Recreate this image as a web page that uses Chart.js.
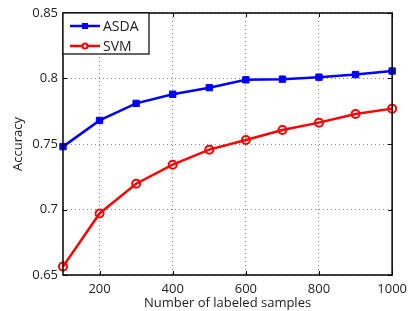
<!DOCTYPE html>
<html>
<head>
<meta charset="utf-8">
<script src="https://cdn.jsdelivr.net/npm/chart.js@4"></script>
<style>
  html, body { margin: 0; padding: 0; background: #fff; }
  #wrap { width: 413px; height: 311px; }
</style>
</head>
<body>
<div id="wrap"><canvas id="myChart" width="413" height="311"></canvas></div>
<script>
// data
const samples = [100, 200, 300, 400, 500, 600, 700, 800, 900, 1000];
const asda = [0.748, 0.768, 0.781, 0.788, 0.793, 0.799, 0.7995, 0.801, 0.803, 0.8057];
const svm = [0.6564, 0.697, 0.7197, 0.7342, 0.7457, 0.753, 0.7607, 0.7663, 0.7729, 0.777];
const xTicks = [200, 400, 600, 800, 1000];
const yTicks = [0.65, 0.7, 0.75, 0.8, 0.85];

const font = "'Open Sans', 'DejaVu Sans', sans-serif";

// box round the plot, inward tick marks, legend inside top-left
const framePlugin = {
    id: 'frame',
    afterDatasetsDraw(chart) {
        const ctx = chart.ctx;
        const a = chart.chartArea;
        const xs = chart.scales.x, ys = chart.scales.y;
        ctx.save();
        ctx.strokeStyle = '#000';
        ctx.lineWidth = 1.5;
        ctx.strokeRect(a.left, a.top, a.right - a.left, a.bottom - a.top);
        ctx.lineWidth = 1;
        xs.ticks.forEach(t => {
            const px = Math.round(xs.getPixelForValue(t.value)) + 0.5;
            ctx.beginPath();
            ctx.moveTo(px, a.bottom); ctx.lineTo(px, a.bottom - 4);
            ctx.moveTo(px, a.top); ctx.lineTo(px, a.top + 4);
            ctx.stroke();
        });
        ys.ticks.forEach(t => {
            const py = Math.round(ys.getPixelForValue(t.value)) + 0.5;
            ctx.beginPath();
            ctx.moveTo(a.left, py); ctx.lineTo(a.left + 4, py);
            ctx.moveTo(a.right, py); ctx.lineTo(a.right - 4, py);
            ctx.stroke();
        });

        // legend
        const bx = a.left, by = a.top, bw = 86, bh = 41;
        ctx.fillStyle = '#fff';
        ctx.fillRect(bx, by, bw, bh);
        ctx.lineWidth = 1.2;
        ctx.strokeRect(bx, by, bw, bh);
        ctx.font = '14px ' + font;
        ctx.textBaseline = 'middle';
        chart.data.datasets.forEach((ds, i) => {
            const cy = by + 13 + i * 20;
            ctx.strokeStyle = ds.borderColor;
            ctx.lineWidth = 2.5;
            ctx.beginPath();
            ctx.moveTo(bx + 7, cy); ctx.lineTo(bx + 37, cy);
            ctx.stroke();
            ctx.lineWidth = 2;
            if (ds.pointStyle === 'rect') {
                ctx.fillStyle = ds.borderColor;
                ctx.fillRect(bx + 19, cy - 3, 6, 6);
            } else {
                ctx.fillStyle = '#fff';
                ctx.beginPath();
                ctx.arc(bx + 22, cy, 2.5, 0, Math.PI * 2);
                ctx.fill(); ctx.stroke();
            }
            ctx.fillStyle = '#222';
            ctx.fillText(ds.label, bx + 40, cy + 1);
        });
        ctx.restore();
    }
};

const ctx = document.getElementById('myChart').getContext('2d');
new Chart(ctx, {
    type: 'line',
    data: {
        datasets: [{
            label: 'ASDA',
            data: samples.map((s, i) => ({ x: s, y: asda[i] })),
            borderColor: '#0000ff',
            backgroundColor: '#0000ff',
            borderWidth: 2.5,
            pointStyle: 'rect',
            pointRadius: 4.5,
            pointBorderWidth: 1,
            clip: false
        }, {
            label: 'SVM',
            data: samples.map((s, i) => ({ x: s, y: svm[i] })),
            borderColor: '#ff0000',
            backgroundColor: 'rgba(255,255,255,0)',
            borderWidth: 2.5,
            pointStyle: 'circle',
            pointRadius: 4,
            pointBorderWidth: 2,
            clip: false
        }]
    },
    options: {
        responsive: false,
        animation: false,
        layout: { padding: { top: 13, right: 15, left: 10, bottom: 0 } },
        plugins: { legend: { display: false }, tooltip: { enabled: false } },
        scales: {
            x: {
                type: 'linear',
                min: 100,
                max: 1000,
                afterBuildTicks: s => { s.ticks = xTicks.map(v => ({ value: v })); },
                afterFit: s => { s.height = 36; },
                grid: { color: '#888', drawTicks: false },
                border: { display: false, dash: [1, 3] },
                ticks: { color: '#222', font: { family: font, size: 13 }, padding: 6, maxRotation: 0, callback: v => String(v) },
                title: { display: true, text: 'Number of labeled samples', color: '#222', font: { family: font, size: 13 }, padding: { top: 0, bottom: 0 } }
            },
            y: {
                min: 0.65,
                max: 0.85,
                afterBuildTicks: s => { s.ticks = yTicks.map(v => ({ value: v })); },
                afterFit: s => { s.width = 53; },
                grid: { color: '#888', drawTicks: false },
                border: { display: false, dash: [1, 3] },
                ticks: { color: '#222', font: { family: font, size: 13 }, padding: 5, callback: v => String(v) },
                title: { display: true, text: 'Accuracy', color: '#222', font: { family: font, size: 13 }, padding: { top: 0, bottom: 2 } }
            }
        }
    },
    plugins: [framePlugin]
});
</script>
</body>
</html>
